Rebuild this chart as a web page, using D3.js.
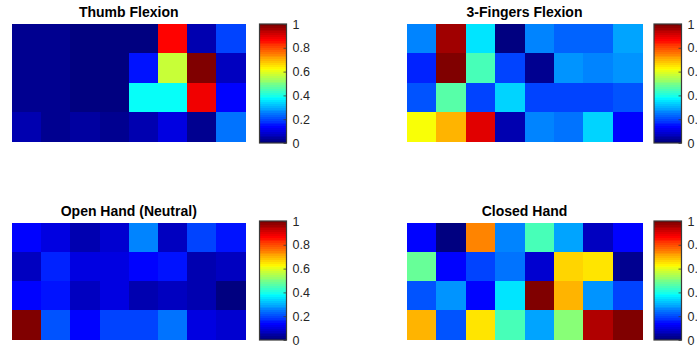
<!DOCTYPE html>
<html>
<head>
<meta charset="utf-8">
<script src="https://cdn.jsdelivr.net/npm/d3@7"></script>
<style>
  html, body { margin: 0; padding: 0; background: #fff; }
  svg { display: block; }
  text { font-family: Helvetica, Arial, "Liberation Sans", sans-serif; }
</style>
</head>
<body>
<svg id="chart" width="697" height="345"></svg>
<script>
// Electrode grid: 4 rows x 8 columns, normalised activation (0..1)
const rowLabels = ["r1", "r2", "r3", "r4"];
const colLabels = ["c1", "c2", "c3", "c4", "c5", "c6", "c7", "c8"];
const tickValues = [0, 0.2, 0.4, 0.6, 0.8, 1];
const tickLabels = ["0", "0.2", "0.4", "0.6", "0.8", "1"];

const titles = ["Thumb Flexion", "3-Fingers Flexion", "Open Hand (Neutral)", "Closed Hand"];

const thumbFlexion = [
  [0.03, 0.02, 0.01, 0.01, 0.01, 0.87, 0.05, 0.19],
  [0.03, 0.02, 0.01, 0.01, 0.15, 0.575, 1.00, 0.07],
  [0.03, 0.02, 0.01, 0.01, 0.38, 0.38, 0.89, 0.14],
  [0.05, 0.03, 0.04, 0.02, 0.06, 0.10, 0.02, 0.24]
];
const threeFingersFlexion = [
  [0.25, 0.96, 0.35, 0.00, 0.26, 0.22, 0.23, 0.29],
  [0.17, 1.00, 0.44, 0.20, 0.03, 0.27, 0.26, 0.27],
  [0.21, 0.46, 0.19, 0.34, 0.20, 0.20, 0.20, 0.21],
  [0.61, 0.69, 0.895, 0.05, 0.25, 0.24, 0.34, 0.14]
];
const openHand = [
  [0.14, 0.10, 0.06, 0.09, 0.26, 0.07, 0.19, 0.15],
  [0.07, 0.16, 0.10, 0.10, 0.13, 0.15, 0.06, 0.07],
  [0.14, 0.15, 0.07, 0.10, 0.06, 0.07, 0.05, 0.01],
  [1.00, 0.21, 0.13, 0.20, 0.20, 0.24, 0.10, 0.09]
];
const closedHand = [
  [0.14, 0.00, 0.74, 0.25, 0.44, 0.29, 0.07, 0.13],
  [0.475, 0.13, 0.20, 0.24, 0.09, 0.66, 0.65, 0.03],
  [0.21, 0.28, 0.13, 0.35, 0.99, 0.70, 0.28, 0.20],
  [0.69, 0.21, 0.65, 0.44, 0.29, 0.51, 0.94, 1.00]
];
const panelData = [thumbFlexion, threeFingersFlexion, openHand, closedHand];

// Jet colormap, 64 levels
const clamp = v => Math.max(0, Math.min(1, v));
function jet(t) {
  const r = clamp(1.5 - Math.abs(4 * t - 3));
  const g = clamp(1.5 - Math.abs(4 * t - 2));
  const b = clamp(1.5 - Math.abs(4 * t - 1));
  return d3.rgb(r * 255, g * 255, b * 255).formatHex();
}
const jetLevels = d3.range(64).map(i => jet(i / 63));
const color = d3.scaleQuantize().domain([0, 1]).range(jetLevels);

const svg = d3.select("#chart");

// Panel frames
const panels = [
  { hx: 12,  hw: 233.5, hy: 24,    hh: 117.5, cx: 259.5, cw: 27,   cy: 24,  ch: 119 },
  { hx: 407, hw: 235,   hy: 24,    hh: 117.5, cx: 654,   cw: 27.5, cy: 24,  ch: 119 },
  { hx: 12,  hw: 233.5, hy: 222.5, hh: 117,   cx: 259.5, cw: 27,   cy: 221, ch: 119 },
  { hx: 407, hw: 235,   hy: 222.5, hh: 117,   cx: 654,   cw: 27.5, cy: 221, ch: 119 }
];

// Shared vertical gradient for the colorbars
const defs = svg.append("defs");
const grad = defs.append("linearGradient")
  .attr("id", "jetGrad").attr("x1", 0).attr("y1", 1).attr("x2", 0).attr("y2", 0);
jetLevels.forEach((c, i) => {
  grad.append("stop").attr("offset", i / 64).attr("stop-color", c);
  grad.append("stop").attr("offset", (i + 1) / 64).attr("stop-color", c);
});

panels.forEach((p, k) => {
  const data = panelData[k];
  const x = d3.scaleBand().domain(colLabels).range([p.hx, p.hx + p.hw]);
  const y = d3.scaleBand().domain(rowLabels).range([p.hy, p.hy + p.hh]);

  const cells = [];
  data.forEach((row, ri) => row.forEach((v, ci) => cells.push({ r: rowLabels[ri], c: colLabels[ci], v })));

  const g = svg.append("g");
  g.selectAll("rect.cell").data(cells).join("rect")
    .attr("class", "cell")
    .attr("x", d => x(d.c))
    .attr("y", d => y(d.r))
    .attr("width", x.bandwidth() + 0.5)
    .attr("height", y.bandwidth() + 0.5)
    .attr("shape-rendering", "crispEdges")
    .attr("fill", d => color(d.v));

  g.append("text")
    .attr("x", p.hx + p.hw / 2)
    .attr("y", p.hy - 7)
    .attr("text-anchor", "middle")
    .attr("font-size", 14)
    .attr("font-weight", "bold")
    .attr("fill", "#000")
    .text(titles[k]);

  // Colorbar
  const cscale = d3.scaleLinear().domain([0, 1]).range([p.cy + p.ch, p.cy]);
  g.append("rect")
    .attr("x", p.cx).attr("y", p.cy)
    .attr("width", p.cw).attr("height", p.ch)
    .attr("fill", "url(#jetGrad)")
    .attr("stroke", "#3a3a3a")
    .attr("stroke-width", 1.2);

  const axis = d3.axisRight(cscale)
    .tickValues(tickValues)
    .tickFormat((d, i) => tickLabels[i])
    .tickSize(-3)
    .tickPadding(6);
  const ax = g.append("g")
    .attr("transform", `translate(${p.cx + p.cw},0)`)
    .call(axis);
  ax.select(".domain").remove();
  ax.selectAll(".tick line").attr("stroke", "#3a3a3a").attr("stroke-width", 0.8);
  ax.selectAll(".tick text")
    .attr("font-size", 12.5)
    .attr("fill", "#262626")
    .style("font-family", "Helvetica, Arial, 'Liberation Sans', sans-serif");
});
</script>
</body>
</html>
